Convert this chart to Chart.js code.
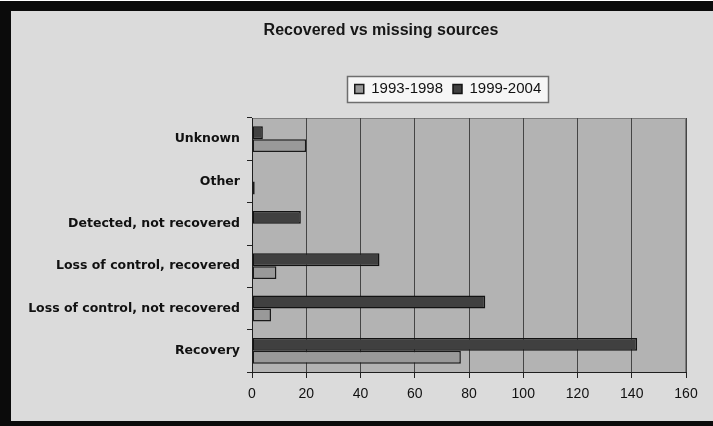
<!DOCTYPE html>
<html>
<head>
<meta charset="utf-8">
<title>Recovered vs missing sources</title>
<script src="https://cdn.jsdelivr.net/npm/chart.js@4/dist/chart.umd.min.js"></script>
<style>
  html, body { margin: 0; padding: 0; background: #ffffff; overflow: hidden; }
  canvas { display: block; }
</style>
</head>
<body>
<canvas id="chart" width="713" height="426"></canvas>
<script>
// Source categories, top to bottom
const categories = [
  'Unknown',
  'Other',
  'Detected, not recovered',
  'Loss of control, recovered',
  'Loss of control, not recovered',
  'Recovery'
];

// Number of sources per period
const period1Label = '1993-1998';
const period1Values = [20, 1, 0, 9, 7, 77];

const period2Label = '1999-2004';
const period2Values = [4, 0, 18, 47, 86, 142];

// Value axis
const axisMin = 0;
const axisMax = 160;
const axisStep = 20;

// Offsets for the title and legend blocks
const TITLE_DX = 32;
const LEGEND_DX = 99;
const LEGEND_DY = 11.5;

const framePlugin = {
  id: 'frame',
  afterLayout(chart) {
    const t = chart.titleBlock;
    if (t) { t.left += TITLE_DX; t.right += TITLE_DX; }
    const l = chart.legend;
    if (l) {
      l.left += LEGEND_DX; l.right += LEGEND_DX;
      l.top -= LEGEND_DY; l.bottom -= LEGEND_DY;
    }
  },
  beforeDraw(chart) {
    const { ctx, chartArea: a, width, height } = chart;
    ctx.save();
    // outer frame
    ctx.fillStyle = '#ffffff';
    ctx.fillRect(0, 0, width, height);
    ctx.fillStyle = '#0b0b0b';
    ctx.fillRect(0, 1, width, height - 1);
    ctx.fillStyle = '#dbdbdb';
    ctx.fillRect(11, 11, width - 11, 410);
    // plot area
    ctx.fillStyle = '#b3b3b3';
    ctx.fillRect(a.left, a.top, a.right - a.left, a.bottom - a.top);
    ctx.strokeStyle = '#7c7c7c';
    ctx.lineWidth = 1;
    ctx.strokeRect(a.left + 0.5, a.top + 0.5, a.right - a.left - 1, a.bottom - a.top);
    // legend frame
    const hb = chart.legend && chart.legend.legendHitBoxes;
    if (hb && hb.length) {
      const first = hb[0], last = hb[hb.length - 1];
      const x0 = Math.round(first.left - 8);
      const x1 = Math.round(last.left + last.width + 8);
      const cy = first.top + first.height / 2;
      const y0 = Math.round(cy - 13.5);
      const y1 = Math.round(cy + 13.5);
      ctx.fillStyle = '#f6f6f6';
      ctx.fillRect(x0, y0, x1 - x0, y1 - y0);
      ctx.strokeStyle = '#6e6e6e';
      ctx.lineWidth = 1.5;
      ctx.strokeRect(x0 + 0.5, y0 + 0.5, x1 - x0 - 1, y1 - y0 - 1);
    }
    ctx.restore();
  }
};

const labelFont = { family: "'Liberation Sans', Arial, sans-serif", size: 14 };

new Chart(document.getElementById('chart'), {
  type: 'bar',
  data: {
    labels: categories,
    datasets: [
      {
        label: period2Label,
        data: period2Values,
        backgroundColor: '#404040',
        borderColor: '#121212',
        borderWidth: 1.5,
        borderSkipped: false
      },
      {
        label: period1Label,
        data: period1Values,
        backgroundColor: '#999999',
        borderColor: '#1a1a1a',
        borderWidth: 1.5,
        borderSkipped: false
      }
    ]
  },
  options: {
    indexAxis: 'y',
    responsive: false,
    devicePixelRatio: 1,
    animation: false,
    categoryPercentage: 0.61,
    barPercentage: 1.0,
    layout: { padding: { left: 12, right: 27, top: 11, bottom: 5 } },
    plugins: {
      title: {
        display: true,
        text: 'Recovered vs missing sources',
        color: '#161616',
        font: { family: "'Liberation Sans', Arial, sans-serif", size: 16, weight: 'bold' },
        padding: { top: 10, bottom: 42.8 }
      },
      legend: {
        display: true,
        position: 'top',
        align: 'center',
        labels: {
          boxWidth: 9,
          boxHeight: 9,
          padding: 10,
          color: '#111111',
          font: { family: "'Liberation Sans', Arial, sans-serif", size: 15 },
          sort: (a, b) => b.datasetIndex - a.datasetIndex
        }
      },
      tooltip: { enabled: true }
    },
    scales: {
      x: {
        type: 'linear',
        position: 'bottom',
        min: axisMin,
        max: axisMax,
        ticks: {
          stepSize: axisStep,
          padding: 7.5,
          color: '#111111',
          font: labelFont
        },
        grid: {
          color: '#454545',
          lineWidth: 1,
          drawTicks: true,
          tickLength: 6,
          tickColor: '#222222'
        },
        border: { display: true, color: '#1e1e1e', width: 1 },
        afterFit(scale) { scale.height = 49; }
      },
      y: {
        type: 'category',
        position: 'left',
        ticks: {
          padding: 7,
          color: '#111111',
          font: { family: "'DejaVu Sans', sans-serif", size: 12.5, weight: 'bold' }
        },
        grid: {
          offset: true,
          drawOnChartArea: false,
          drawTicks: true,
          tickLength: 5,
          color: '#222222'
        },
        border: { display: true, color: '#1e1e1e', width: 1 },
        afterFit(scale) { scale.width = 240; }
      }
    }
  },
  plugins: [framePlugin]
});
</script>
</body>
</html>
